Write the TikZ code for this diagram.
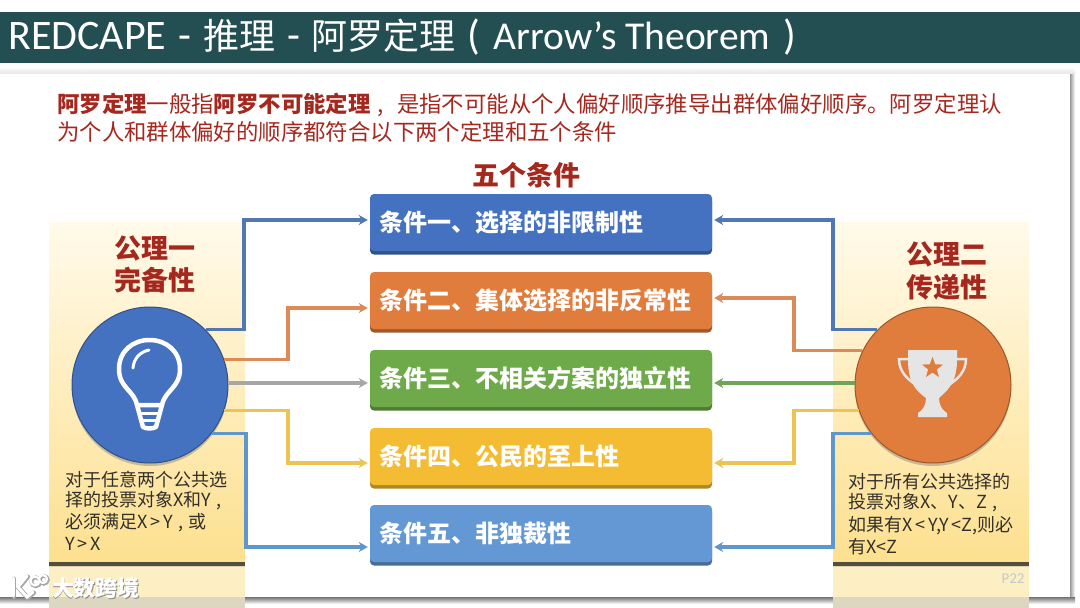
\documentclass[tikz,border=0pt]{standalone}
\usepackage{fontspec}
\setmainfont{Carlito}
\newfontfamily\cjk{Noto Sans CJK SC}
\usetikzlibrary{arrows.meta,shadows,calc,shapes.geometric}
\definecolor{barteal}{HTML}{234F53}
\definecolor{redtxt}{HTML}{A5281F}
\definecolor{bodytxt}{HTML}{33302A}
\definecolor{cblue}{HTML}{4472C0}
\definecolor{corange}{HTML}{E07C3C}
\definecolor{cgreen}{HTML}{6FAA4A}
\definecolor{cyellow}{HTML}{F4BC33}
\definecolor{clight}{HTML}{6498D4}
\definecolor{lblue}{HTML}{4F78B5}
\definecolor{lorange}{HTML}{DB8B58}
\definecolor{lgray}{HTML}{A6A6A6}
\definecolor{lyellow}{HTML}{EBC452}
\definecolor{llight}{HTML}{5F96CC}
\definecolor{lgreen}{HTML}{6FA557}
\definecolor{paneltop}{HTML}{FFFAEA}
\definecolor{panelbot}{HTML}{FDE08F}
\definecolor{panellow}{HTML}{FDEFC4}
\newcommand{\fs}[1]{\fontsize{#1}{#1}\selectfont}
\tikzset{
  panel/.style={anchor=north west,inner sep=0pt,minimum width=196pt,minimum height=341pt,top color=paneltop,bottom color=panelbot},
  panellower/.style={anchor=north west,inner sep=0pt,minimum width=196pt,minimum height=43pt,fill=panellow},
  rule/.style={anchor=north west,inner sep=0pt,minimum width=196pt,minimum height=4pt,fill=black!78!yellow,drop shadow={shadow xshift=0pt,shadow yshift=-1.5pt,opacity=.25}},
  condbox/.style={rounded corners=4pt,inner sep=0pt,minimum width=342pt,minimum height=57pt,text width=324pt,align=left,text=white,font=\cjk\bfseries\fs{24},fill=#1,preaction={fill=#1!72!black,transform canvas={yshift=-3.5pt}}},
  disc/.style={circle,inner sep=0pt,minimum size=156pt,fill=#1,draw=#1!70!black,line width=1pt,drop shadow={shadow xshift=0pt,shadow yshift=-3pt,opacity=.45}},
  conn/.style={draw=#1,line width=3.2pt,-{Stealth[length=9pt,width=10pt]},shorten >=2pt},
  axiom/.style={font=\cjk\bfseries\fs{27},text=redtxt,inner sep=0pt},
  small/.style={anchor=west,font=\cjk\fs{18},text=bodytxt,inner sep=0pt},
  lead/.style={anchor=west,font=\cjk\fs{22.4},text=redtxt,inner sep=0pt},
  icon/.style={draw=white,line width=4.5pt,line cap=round,line join=round},
  logo/.style={draw=#1,line cap=round},
}
\begin{document}
\begin{tikzpicture}[x=1pt,y=-1pt]
\useasboundingbox (0,0) rectangle (1080,608);
\fill[white] (0,0) rectangle (1080,608);
% slide
\shade[top color=black!2,bottom color=black!10] (0,68) rectangle (1075,74);
\shade[left color=black!40,right color=white] (1070,74) rectangle (1075,600);
\shade[top color=black!55,bottom color=white] (0,597) rectangle (1075,604);
\fill[white] (0,74) rectangle (1070,597);
% title bar
\node[anchor=north west,inner sep=0pt,minimum width=1080pt,minimum height=51pt,fill=barteal] (bar) at (0,12) {};
\node[anchor=west,inner sep=0pt,text=white,font=\fs{42}] (title) at (8,37) {REDCAPE\hspace{12pt}-\hspace{12pt}{\cjk\fs{36}推理}\hspace{12pt}-\hspace{12pt}{\cjk\fs{36}阿罗定理}\hspace{12pt}(\hspace{13pt}{\fs{39.5}Arrow's Theorem}\hspace{13pt})};
% lead text
\node[lead] (lead1) at (57,105) {{\bfseries 阿罗定理}一般指{\bfseries 阿罗不可能定理}\hspace{7pt},\hspace{13pt}是指不可能从个人偏好顺序推导出群体偏好顺序。阿罗定理认};
\node[lead] (lead2) at (57,132) {为个人和群体偏好的顺序都符合以下两个定理和五个条件};
\node[font=\cjk\bfseries\fs{27},text=redtxt,inner sep=0pt] (head) at (526,175) {五个条件};
% panels
\node[panel] (p1) at (49,222) {};
\node[panel] (p2) at (833,222) {};
\node[panellower] (p1low) at (49,565) {};
\node[panellower] (p2low) at (833,565) {};
\node[rule] (r1) at (49,561.5) {};
\node[rule] (r2) at (833,561.5) {};
\fill[black!25,opacity=.5] (49,597) rectangle (245,608);
\fill[black!25,opacity=.5] (833,597) rectangle (1029,608);
% boxes
\node[condbox=cblue] (b1) at (541,222.5) {条件一、选择的非限制性};
\node[condbox=corange] (b2) at (541,300.5) {条件二、集体选择的非反常性};
\node[condbox=cgreen] (b3) at (541,378.5) {条件三、不相关方案的独立性};
\node[condbox=cyellow] (b4) at (541,456.5) {条件四、公民的至上性};
\node[condbox=clight] (b5) at (541,533.5) {条件五、非独裁性};
% discs
\node[disc=cblue] (c1) at (150,385) {};
\node[disc=corange] (c2) at (933,385) {};
% connector bends
\coordinate (jl1) at (244,220);
\coordinate (jl2) at (288,308);
\coordinate (jl3) at (300,383);
\coordinate (jl4) at (288,463);
\coordinate (jl5) at (246,547);
\coordinate (jr1) at (833,220);
\coordinate (jr2) at (794,298);
\coordinate (jr3) at (780,383);
\coordinate (jr4) at (794,463);
\coordinate (jr5) at (833,547);
% left connectors
\draw[conn=lblue] (c1.45) -| (jl1) -- (b1.west |- jl1);
\draw[conn=lorange] (c1.19) -| (jl2) -- (b2.west |- jl2);
\draw[conn=lgray] (c1.east |- jl3) -- (b3.west |- jl3);
\draw[conn=lyellow] (c1.-19) -| (jl4) -- (b4.west |- jl4);
\draw[conn=llight] (c1.-38) -| (jl5) -- (b5.west |- jl5);
% right connectors
\draw[conn=lblue] (c2.135) -| (jr1) -- (b1.east |- jr1);
\draw[conn=lorange] (c2.154) -| (jr2) -- (b2.east |- jr2);
\draw[conn=lgreen] (c2.west |- jr3) -- (b3.east |- jr3);
\draw[conn=lyellow] (c2.199) -| (jr4) -- (b4.east |- jr4);
\draw[conn=llight] (c2.218) -| (jr5) -- (b5.east |- jr5);
% axioms
\node[axiom] (a1t) at (155,248) {公理一};
\node[axiom] (a1s) at (155,280) {完备性};
\node[axiom] (a2t) at (947,254) {公理二};
\node[axiom] (a2s) at (947,287) {传递性};
% bulb icon
\draw[icon] (137,405) .. controls (134,390) and (119,388) .. (119,369) .. controls (119,351) and (133,340) .. (149.5,340) .. controls (166,340) and (180,351) .. (180,369) .. controls (180,388) and (165,390) .. (162,405);
\draw[icon,line width=3pt] (133,368) .. controls (134,358) and (140,352) .. (149,350);
\draw[icon] (137,405) -- (162,405) -- (156,427) .. controls (152,429) and (147,429) .. (143,427) -- cycle;
\draw[icon,line width=3pt] (140,413) -- (159,413);
\draw[icon,line width=3pt] (142,420) -- (157,420);
% trophy icon
\fill[black!10] (908,350) -- (957,350) -- (957,360) .. controls (957,385) and (945,392) .. (939,398) .. controls (939,405) and (942,410) .. (947,413) -- (947,417) -- (918,417) -- (918,413) .. controls (923,410) and (926,405) .. (926,398) .. controls (918,392) and (908,385) .. (908,360) -- cycle;
\draw[black!10,line width=2.5pt] (908,359) -- (899,359) .. controls (899,372) and (908,380) .. (918,386);
\draw[black!10,line width=2.5pt] (957,359) -- (966,359) .. controls (966,372) and (957,380) .. (947,386);
\node[star,star points=5,star point ratio=2.4,inner sep=0pt,minimum size=22pt,fill=corange] (star) at (932.5,368) {};
% small text
\node[small] (l1a) at (65,480) {对于任意两个公共选};
\node[small] (l1b) at (65,501) {择的投票对象X和Y\hspace{5pt},};
\node[small] (l1c) at (65,523) {必须满足X\hspace{3pt}>\hspace{3pt}Y\hspace{5pt},\hspace{5pt}或};
\node[small] (l1d) at (65,544) {Y\hspace{3pt}>\hspace{3pt}X};
\node[small] (l2a) at (848,482) {对于所有公共选择的};
\node[small] (l2b) at (848,503) {投票对象X、Y、Z\hspace{6pt},};
\node[small] (l2c) at (848,526) {如果有X\,<\,Y,Y\,<Z,则必};
\node[small] (l2d) at (848,547) {有X<Z};
% page number and watermark
\node[inner sep=0pt,text=black!22,font=\fs{15}] (page) at (1013,579) {P22};
\node[inner sep=0pt,text=black!45,font=\cjk\bfseries\fs{22}] (wms) at (96.7,589) {大数跨境};
\node[inner sep=0pt,text=white,font=\cjk\bfseries\fs{22}] (wm) at (96,588.3) {大数跨境};
\foreach \col/\w/\dx in {black!35/1.6/0.8,white/0/0}{
  \begin{scope}[shift={(\dx,\dx)}]
  \draw[logo=\col,line width=3pt+\w pt] (13,578) -- (13,596);
  \draw[logo=\col,line width=3pt+\w pt] (27,576) -- (18,587) -- (27,597) -- (33,592);
  \draw[logo=\col,line width=2.2pt+\w pt] (35,581) circle[radius=4.5];
  \draw[logo=\col,line width=2.2pt+\w pt] (43,579) circle[radius=4];
  \end{scope}
}
\end{tikzpicture}
\end{document}
